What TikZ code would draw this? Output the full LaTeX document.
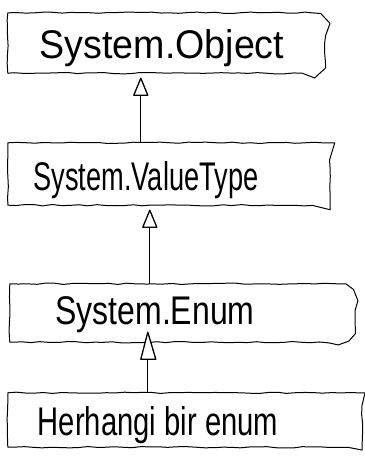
\documentclass[tikz,border=0pt]{standalone}
\usepackage{fontspec}
\setmainfont{Liberation Sans}
\usetikzlibrary{decorations.pathmorphing,calc}
\pgfmathsetseed{7}
\tikzset{
  hand/.style={draw=black, line width=1pt, line join=round,
    decorate, decoration={random steps, segment length=9pt, amplitude=0.7pt}},
  boxarea/.style={draw=none, inner sep=0pt},
  lbl/.style={font=\fontsize{40}{44}\selectfont, inner sep=0pt},
  conn/.style={draw=black, line width=1pt},
  tri/.style={draw=black, line width=1.3pt, line join=round, fill=white}
}
\begin{document}
\begin{tikzpicture}[x=1pt,y=-1pt]
\useasboundingbox[fill=white] (0,0) rectangle (364,457);
% boxes
\node[boxarea, minimum width=317pt, minimum height=60pt] (b1) at (166.5,43) {};
\node[boxarea, minimum width=322pt, minimum height=62pt] (b2) at (169,174) {};
\node[boxarea, minimum width=345pt, minimum height=58pt] (b3) at (182.5,313) {};
\node[boxarea, minimum width=354pt, minimum height=54pt] (b4) at (185,420) {};
% labels
\node[lbl] (t1) at (162,48) {\scalebox{0.94}[1]{System.Object}};
\node[lbl] (t2) at (146,180) {\scalebox{0.68}[1]{System.ValueType}};
\node[lbl] (t3) at (155,315) {\scalebox{0.80}[1]{System.Enum}};
\node[lbl] (t4) at (158,425) {\scalebox{0.73}[1]{Herhangi bir enum}};
% outlines
\foreach \b/\r in {b1/14,b2/8,b3/18,b4/5}{
  \draw[hand] (\b.north west) -- ([xshift=-\r pt]\b.north east)
    to[out=0,in=90] ([yshift=-\r pt]\b.north east)
    -- ([yshift=\r pt]\b.south east)
    to[out=-90,in=0] ([xshift=-\r pt]\b.south east)
    -- (\b.south west) -- cycle;
}
% generalization arrows (apex coordinates)
\coordinate (a1) at ($(b1.south west)+(133,5)$);
\coordinate (a2) at ($(b2.south west)+(142,5)$);
\coordinate (a3) at ($(b3.south west)+(138,-10)$);
\draw[conn] ($(b2.north west)+(133,0)$) -- ($(a1)+(0,17)$);
\draw[conn] ($(b3.north west)+(140,0)$) -- ($(a2)+(0,17)$);
\draw[conn] ($(b4.north west)+(140,0)$) -- ($(a3)+(0,27)$);
\draw[tri] (a1) -- ($(a1)+(7,17)$) -- ($(a1)+(-7,17)$) -- cycle;
\draw[tri] (a2) -- ($(a2)+(7,17)$) -- ($(a2)+(-7,17)$) -- cycle;
\draw[tri] (a3) -- ($(a3)+(8,27)$) -- ($(a3)+(-7,27)$) -- cycle;
\end{tikzpicture}
\end{document}
